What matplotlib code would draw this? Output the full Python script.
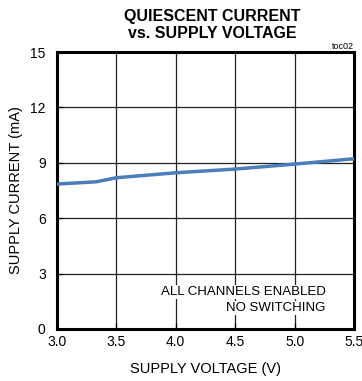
import numpy as np
import matplotlib.pyplot as plt

plt.rcParams['font.family'] = ['Liberation Sans', 'DejaVu Sans']

# supply voltage (V) and quiescent current (mA)
voltage = [3.0, 3.33, 3.5, 4.0, 4.5, 5.0, 5.5]
current = [7.85, 7.97, 8.19, 8.46, 8.66, 8.93, 9.22]

x_ticks = [3.0, 3.5, 4.0, 4.5, 5.0, 5.5]
y_ticks = [0, 3, 6, 9, 12, 15]

fig = plt.figure(figsize=(3.62, 3.81), dpi=100)
ax = fig.add_axes([0.157, 0.1365, 0.821, 0.727])

ax.plot(voltage, current, color='#4a7ebb', linewidth=2.5, zorder=3)

ax.set_xlim(3.0, 5.5)
ax.set_ylim(0, 15)
ax.set_xticks(x_ticks)
ax.set_yticks(y_ticks)
ax.set_xticklabels(['%.1f' % v for v in x_ticks])
ax.grid(True, color='#222222', linewidth=0.9)
ax.tick_params(direction='in', length=4, labelsize=10, width=0.9)
ax.tick_params(axis='x', pad=4)
ax.tick_params(axis='y', pad=8)
for s in ax.spines.values():
    s.set_linewidth(2.2)

ax.set_xlabel('SUPPLY VOLTAGE (V)', fontsize=10.5, labelpad=10)
ax.set_ylabel('SUPPLY CURRENT (mA)', fontsize=10.5, labelpad=5)

ax.text(5.26, 2.0, 'ALL CHANNELS ENABLED', ha='right', va='center', fontsize=9.5,
        bbox=dict(facecolor='white', edgecolor='none', pad=0.5), zorder=4)
ax.text(5.26, 1.14, 'NO SWITCHING', ha='right', va='center', fontsize=9.5,
        bbox=dict(facecolor='white', edgecolor='none', pad=0.5), zorder=4)

fig.text(0.586, 0.934, 'QUIESCENT CURRENT\nvs. SUPPLY VOLTAGE', ha='center', va='center',
         fontsize=11.5, fontweight='bold', linespacing=1.2)
fig.text(0.978, 0.878, 'toc02', ha='right', va='center', fontsize=6.5)

fig.savefig('out.png', dpi=100)
